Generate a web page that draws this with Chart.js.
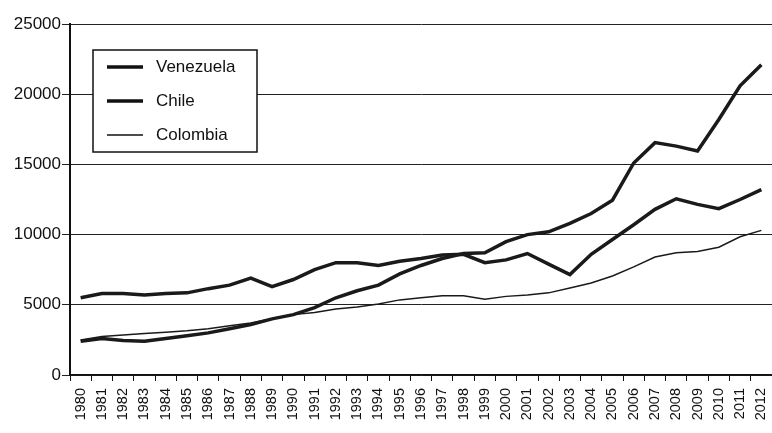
<!DOCTYPE html>
<html>
<head>
<meta charset="utf-8">
<script src="https://cdn.jsdelivr.net/npm/chart.js@4.4.0/dist/chart.umd.min.js"></script>
<style>
  html, body { margin: 0; padding: 0; background: #fff; }
  #wrap { width: 772px; height: 433px; position: relative; }
</style>
</head>
<body>
<div id="wrap"><canvas id="c"></canvas></div>
<script>
// Dữ liệu
const years = [];
for (let y = 1980; y <= 2012; y++) years.push(String(y));

const venezuela = [5500, 5800, 5800, 5700, 5800, 5850, 6150, 6400, 6900, 6300,
  6800, 7500, 8000, 8000, 7800, 8100, 8300, 8550, 8600, 8000,
  8200, 8650, 7900, 7150, 8600, 9650, 10700, 11800, 12550, 12150,
  11850, 12500, 13200];
const chile = [2400, 2600, 2450, 2400, 2600, 2800, 3000, 3300, 3600, 4000,
  4300, 4800, 5500, 6000, 6400, 7200, 7800, 8300, 8650, 8700,
  9500, 10000, 10200, 10800, 11500, 12450, 15100, 16550, 16300, 15950,
  18200, 20600, 22100];
const colombia = [2500, 2750, 2850, 2950, 3050, 3150, 3300, 3500, 3700, 4000,
  4300, 4450, 4700, 4850, 5050, 5350, 5500, 5650, 5650, 5400,
  5600, 5700, 5850, 6200, 6550, 7050, 7700, 8400, 8700, 8800,
  9100, 9850, 10300];
const yTicks = [0, 5000, 10000, 15000, 20000, 25000];

const FONT = "'Liberation Sans', Arial, sans-serif";

// Chú giải trong khung
const boxLegend = {
  id: "boxLegend",
  afterDraw(chart) {
    const ctx = chart.ctx;
    const x = 93, y = 50, w = 164, h = 102;
    ctx.save();
    ctx.fillStyle = "#fff";
    ctx.fillRect(x, y, w, h);
    ctx.strokeStyle = "#111";
    ctx.lineWidth = 1.5;
    ctx.strokeRect(x, y, w, h);
    ctx.font = "17px " + FONT;
    ctx.textBaseline = "middle";
    chart.data.datasets.forEach((ds, i) => {
      const ly = y + 17 + i * 34;
      ctx.strokeStyle = "#111";
      ctx.lineWidth = ds.borderWidth;
      ctx.beginPath();
      ctx.moveTo(107, ly);
      ctx.lineTo(143, ly);
      ctx.stroke();
      ctx.fillStyle = "#111";
      ctx.fillText(ds.label, 156, ly);
    });
    ctx.restore();
  }
};

new Chart(document.getElementById("c"), {
  type: "line",
  data: {
    labels: years,
    datasets: [
      { label: "Venezuela", data: venezuela, borderColor: "#1a1a1a", borderWidth: 3.5, pointRadius: 0, tension: 0 },
      { label: "Chile", data: chile, borderColor: "#1a1a1a", borderWidth: 3.5, pointRadius: 0, tension: 0 },
      { label: "Colombia", data: colombia, borderColor: "#1a1a1a", borderWidth: 1.5, pointRadius: 0, tension: 0 },
    ],
  },
  options: {
    responsive: true,
    maintainAspectRatio: false,
    animation: false,
    layout: { padding: { top: 24, right: 0, left: 0, bottom: 0 } },
    plugins: { legend: { display: false }, tooltip: { enabled: false } },
    scales: {
      x: {
        offset: true,
        grid: { offset: true, display: true, drawOnChartArea: false, tickLength: 6, color: "#111" },
        border: { color: "#111", width: 1.5 },
        ticks: {
          minRotation: 90, maxRotation: 90, autoSkip: false, padding: 7,
          color: "#111", font: { family: FONT, size: 14.5 },
        },
        afterFit(scale) {
          scale.height = 58;
          scale.paddingLeft = 0;
          scale.paddingRight = 0;
        },
      },
      y: {
        min: 0, max: 25000,
        afterBuildTicks(scale) { scale.ticks = yTicks.map(v => ({ value: v })); },
        grid: { color: "#222", lineWidth: 1, tickLength: 8 },
        border: { color: "#111", width: 2 },
        ticks: {
          padding: 1, color: "#111",
          font: { family: FONT, size: 17 },
          callback: (v) => String(v),
        },
        afterFit(scale) { scale.width = 70; },
      },
    },
  },
  plugins: [boxLegend],
});
</script>
</body>
</html>
